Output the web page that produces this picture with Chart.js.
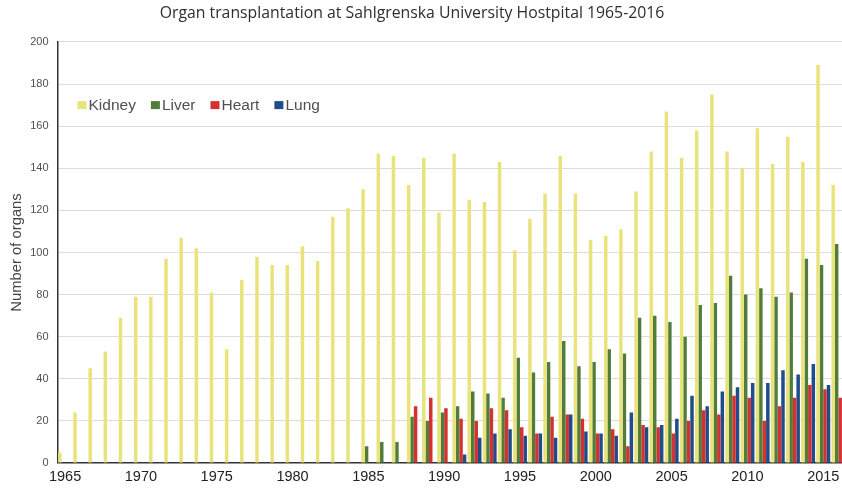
<!DOCTYPE html>
<html lang="en">
<head>
    <meta charset="UTF-8">
    <title>Organ transplantation at Sahlgrenska University Hostpital 1965-2016</title>
    <script src="https://cdn.jsdelivr.net/npm/chart.js"></script>
    <style>
        body {
            margin: 0;
            background: #fff;
            overflow: hidden;
        }
    </style>
</head>
<body>
    <canvas id="organChart" width="846" height="490"></canvas>

    <script>
        const years = ['1965', '1966', '1967', '1968', '1969', '1970', '1971', '1972', '1973', '1974',
                       '1975', '1976', '1977', '1978', '1979', '1980', '1981', '1982', '1983', '1984',
                       '1985', '1986', '1987', '1988', '1989', '1990', '1991', '1992', '1993', '1994',
                       '1995', '1996', '1997', '1998', '1999', '2000', '2001', '2002', '2003', '2004',
                       '2005', '2006', '2007', '2008', '2009', '2010', '2011', '2012', '2013', '2014',
                       '2015', '2016'];

        const kidney = [5, 24, 45, 53, 69, 79, 79, 97, 107, 102,
                        81, 54, 87, 98, 94, 94, 103, 96, 117, 121,
                        130, 147, 146, 132, 145, 119, 147, 125, 124, 143,
                        101, 116, 128, 146, 128, 106, 108, 111, 129, 148,
                        167, 145, 158, 175, 148, 140, 159, 142, 155, 143,
                        189, 132];

        const liver = [0, 0, 0, 0, 0, 0, 0, 0, 0, 0,
                       0, 0, 0, 0, 0, 0, 0, 0, 0, 0,
                       8, 10, 10, 22, 20, 24, 27, 34, 33, 31,
                       50, 43, 48, 58, 46, 48, 54, 52, 69, 70,
                       67, 60, 75, 76, 89, 80, 83, 79, 81, 97,
                       94, 104];

        const heart = [0, 0, 0, 0, 0, 0, 0, 0, 0, 0,
                       0, 0, 0, 0, 0, 0, 0, 0, 0, 0,
                       0, 0, 0, 27, 31, 26, 21, 20, 26, 25,
                       17, 14, 22, 23, 21, 14, 16, 8, 18, 17,
                       14, 20, 25, 23, 32, 31, 20, 27, 31, 37,
                       35, 31];

        const lung = [0, 0, 0, 0, 0, 0, 0, 0, 0, 0,
                      0, 0, 0, 0, 0, 0, 0, 0, 0, 0,
                      0, 0, 0, 0, 0, 0, 4, 12, 14, 16,
                      13, 14, 12, 23, 15, 14, 13, 24, 17, 18,
                      21, 32, 27, 34, 36, 38, 38, 44, 42, 47,
                      37, null];

        const colors = {
            kidney: '#e9e37c',
            liver: '#517c3c',
            heart: '#d63131',
            lung: '#1f4c8a'
        };

        // legend sits inside the plot, at the height of the 170 gridline
        const innerLegend = {
            id: 'innerLegend',
            afterDraw(chart) {
                const ctx = chart.ctx;
                const y = chart.scales.y.getPixelForValue(170);
                let x = chart.chartArea.left + 20;
                ctx.save();
                ctx.font = '15.5px "Liberation Sans", Arial, sans-serif';
                ctx.textBaseline = 'middle';
                chart.data.datasets.forEach(ds => {
                    ctx.fillStyle = ds.backgroundColor;
                    ctx.fillRect(x, y - 4, 9, 8);
                    x += 11;
                    ctx.fillStyle = '#505050';
                    ctx.fillText(ds.label, x, y + 1);
                    x += ctx.measureText(ds.label).width + 15;
                });
                ctx.restore();
            }
        };

        // nudge the title a little to the left, like the original
        const titleShift = {
            id: 'titleShift',
            afterLayout(chart) {
                if (chart.titleBlock) {
                    chart.titleBlock.left -= 11;
                    chart.titleBlock.right -= 11;
                }
            }
        };

        const ctx = document.getElementById('organChart').getContext('2d');
        new Chart(ctx, {
            type: 'bar',
            data: {
                labels: years,
                datasets: [
                    { label: 'Kidney', data: kidney, backgroundColor: colors.kidney },
                    { label: 'Liver', data: liver, backgroundColor: colors.liver },
                    { label: 'Heart', data: heart, backgroundColor: colors.heart },
                    { label: 'Lung', data: lung, backgroundColor: colors.lung }
                ]
            },
            options: {
                responsive: false,
                animation: false,
                categoryPercentage: 0.92,
                barPercentage: 1.0,
                layout: { padding: 0 },
                plugins: {
                    legend: { display: false },
                    tooltip: { enabled: false },
                    title: {
                        display: true,
                        text: 'Organ transplantation at Sahlgrenska University Hostpital 1965-2016',
                        color: '#2e2e2e',
                        font: { family: '"Open Sans", sans-serif', size: 15.8, weight: 'normal' },
                        padding: { top: 4, bottom: 19 }
                    }
                },
                scales: {
                    x: {
                        grid: { display: false, drawTicks: false },
                        border: { display: true, color: '#333', width: 1.5 },
                        ticks: {
                            autoSkip: false,
                            maxRotation: 0,
                            padding: 5,
                            color: '#222',
                            font: { family: '"Liberation Sans", Arial, sans-serif', size: 14.5 },
                            callback: function (value, index) {
                                const yr = years[index];
                                return Number(yr) % 5 === 0 ? yr : '';
                            }
                        },
                        afterFit: function (scale) {
                            scale.height = 27;
                        }
                    },
                    y: {
                        min: 0,
                        max: 200,
                        grid: { color: '#dcdcdc', lineWidth: 1, drawTicks: false },
                        border: { display: true, color: '#333', width: 1.5 },
                        ticks: {
                            stepSize: 20,
                            padding: 9,
                            color: '#505050',
                            font: { family: '"Liberation Sans", Arial, sans-serif', size: 11 }
                        },
                        title: {
                            display: true,
                            text: 'Number of organs',
                            color: '#444',
                            padding: { top: 8, bottom: 0 },
                            font: { family: '"Liberation Sans", Arial, sans-serif', size: 14.8 }
                        },
                        afterFit: function (scale) {
                            scale.width = 57.5;
                        }
                    }
                }
            },
            plugins: [innerLegend, titleShift]
        });
    </script>
</body>
</html>
